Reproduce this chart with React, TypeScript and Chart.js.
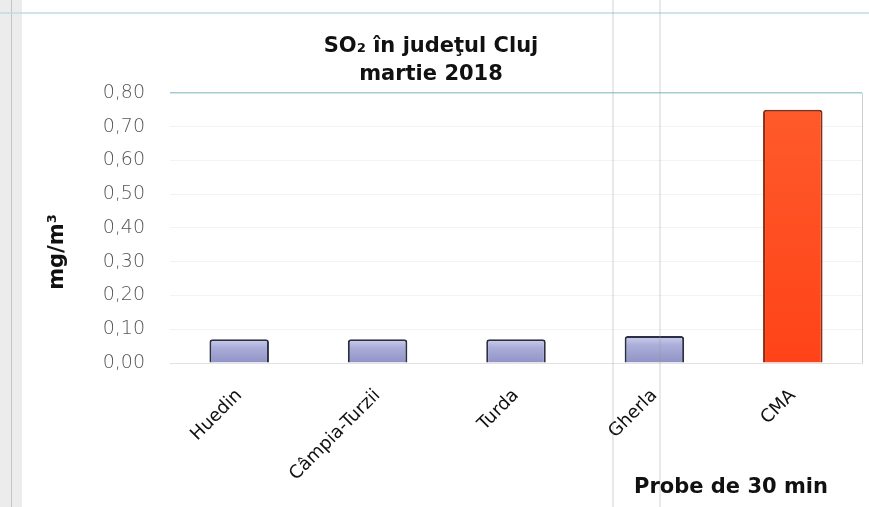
import React, { useEffect, useRef } from "react";
import { Chart, registerables } from "chart.js";

Chart.register(...registerables);

const categories = ["Huedin", "Câmpia-Turzii", "Turda", "Gherla", "CMA"];
const so2Values = [0.07, 0.07, 0.07, 0.08, 0.75];
const titleLines = ["SO₂ în judeţul Cluj", "martie 2018"];
const yAxisTitle = "mg/m³";
const xAxisTitle = "Probe de 30 min";
const yTickMin = 0;
const yTickMax = 0.8;
const yTickStep = 0.1;

const W = 869;
const H = 507;

const decorPlugin = {
  id: "decor",
  beforeDraw(chart: any) {
    const c = chart.ctx;
    c.save();
    c.fillStyle = "#ffffff";
    c.fillRect(0, 0, chart.width, chart.height);
    c.fillStyle = "#ececec";
    c.fillRect(0, 0, 22, chart.height);
    c.strokeStyle = "#c4c4c4";
    c.lineWidth = 1;
    c.beginPath();
    c.moveTo(11.5, 0);
    c.lineTo(11.5, chart.height);
    c.stroke();
    c.strokeStyle = "#c2dcdc";
    c.lineWidth = 1.5;
    c.beginPath();
    c.moveTo(0, 13);
    c.lineTo(chart.width, 13);
    c.stroke();
    c.restore();
  },
  afterDatasetsDraw(chart: any) {
    const c = chart.ctx;
    const a = chart.chartArea;
    c.save();
    c.strokeStyle = "#a6ccd2";
    c.lineWidth = 1.5;
    c.beginPath();
    c.moveTo(a.left, a.top);
    c.lineTo(a.right, a.top);
    c.stroke();
    c.strokeStyle = "#cfcfcf";
    c.lineWidth = 1;
    c.beginPath();
    c.moveTo(a.right + 0.5, a.top);
    c.lineTo(a.right + 0.5, a.bottom);
    c.stroke();
    c.strokeStyle = "rgba(150,150,150,0.35)";
    c.lineWidth = 1.2;
    [613, 660].forEach((x) => {
      c.beginPath();
      c.moveTo(x, 0);
      c.lineTo(x, chart.height);
      c.stroke();
    });
    c.fillStyle = "#111";
    c.font = "bold 21px 'DejaVu Sans'";
    c.textAlign = "center";
    c.textBaseline = "middle";
    c.translate(58, 252);
    c.rotate(-Math.PI / 2);
    c.fillText(yAxisTitle, 0, 0);
    c.restore();
    c.save();
    c.fillStyle = "#111";
    c.font = "bold 21px 'DejaVu Sans'";
    c.textAlign = "center";
    c.textBaseline = "alphabetic";
    c.fillText(xAxisTitle, 731, 493);
    c.restore();
  },
};

function barFill(ctx: any) {
  const chart = ctx.chart;
  const idx = ctx.dataIndex;
  const isMax = idx === categories.length - 1;
  const fallback = isMax ? "#ff4c1f" : "#a9abd8";
  const ys = chart.scales && chart.scales.y;
  if (!ys || ctx.raw == null) return fallback;
  const top = ys.getPixelForValue(ctx.raw);
  const bottom = ys.getPixelForValue(0);
  if (!isFinite(top) || !isFinite(bottom) || top === bottom) return fallback;
  const g = chart.ctx.createLinearGradient(0, top, 0, bottom);
  if (isMax) {
    g.addColorStop(0, "#ff5a2a");
    g.addColorStop(1, "#ff4318");
  } else {
    g.addColorStop(0, "#ccceee");
    g.addColorStop(0.35, "#abadd9");
    g.addColorStop(1, "#9093c4");
  }
  return g;
}

export default function App() {
  const ref = useRef<HTMLCanvasElement | null>(null);

  useEffect(() => {
    document.body.style.margin = "0";
    const canvas = ref.current;
    if (!canvas) return;
    const chart = new Chart(canvas, {
      type: "bar",
      data: {
        labels: categories,
        datasets: [
          {
            data: so2Values,
            backgroundColor: barFill,
            borderColor: (ctx: any) =>
              ctx.dataIndex === categories.length - 1 ? "#8c2a12" : "#2b2f44",
            borderWidth: { top: 2, left: 2, right: 2, bottom: 0 } as any,
            borderRadius: 3,
            borderSkipped: "bottom",
            barPercentage: 0.43,
            categoryPercentage: 1,
          },
        ],
      },
      plugins: [decorPlugin],
      options: {
        responsive: false,
        animation: false,
        devicePixelRatio: 1,
        layout: { padding: { left: 0, right: 7, top: 0, bottom: 0 } },
        plugins: {
          legend: { display: false },
          tooltip: { enabled: false },
          title: {
            display: true,
            text: titleLines,
            color: "#111",
            font: { family: "'DejaVu Sans'", size: 21, weight: "bold", lineHeight: 1.33 },
            padding: { top: 33, bottom: 4 },
          },
        },
        scales: {
          x: {
            grid: { display: false, drawTicks: false },
            border: { display: true, color: "#e2e2e2" },
            ticks: {
              autoSkip: false,
              maxRotation: 45,
              minRotation: 45,
              padding: 22,
              color: "#111",
              font: { family: "'DejaVu Sans'", size: 18 },
            },
            afterFit: (s: any) => {
              s.height = 144;
            },
          },
          y: {
            min: yTickMin,
            max: yTickMax,
            grid: { color: "#f3f3f3", drawTicks: false },
            border: { display: false },
            ticks: {
              stepSize: yTickStep,
              padding: 25,
              color: "#555",
              font: { family: "'DejaVu Sans'", size: 19, weight: "300" },
              callback: (v: any) => Number(v).toFixed(2).replace(".", ","),
            },
            afterFit: (s: any) => {
              s.width = 170;
            },
          },
        },
      },
    });
    return () => chart.destroy();
  }, []);

  return (
    <div style={{ width: W, height: H, background: "#fff" }}>
      <canvas ref={ref} width={W} height={H} style={{ display: "block" }} />
    </div>
  );
}
